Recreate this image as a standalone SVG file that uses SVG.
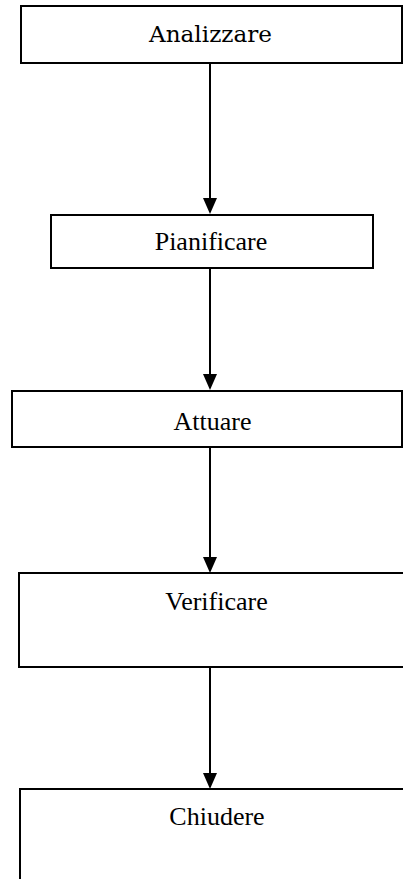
<svg xmlns="http://www.w3.org/2000/svg" width="403" height="879" viewBox="0 0 403 879">
<style>
.box{fill:#fff;stroke:#000;stroke-width:2}
.lbl{font-family:"Liberation Serif","Times New Roman",serif;font-size:26px;fill:#000;text-anchor:middle}
.lbl1{font-family:"DejaVu Serif","Liberation Serif",serif;font-size:22px;fill:#000;text-anchor:middle}
.conn{stroke:#000;stroke-width:2;fill:none;marker-end:url(#ah)}
</style>
<defs>
<marker id="ah" viewBox="0 0 16 14" refX="14" refY="7" markerWidth="16" markerHeight="14" markerUnits="userSpaceOnUse" orient="auto">
<path d="M0,0 L16,7 L0,14 z" fill="#000"/>
</marker>
</defs>
<rect width="403" height="879" fill="#fff"/>
<g id="connectors">
<line class="conn" x1="210" y1="63" x2="210" y2="212"/>
<line class="conn" x1="210" y1="268" x2="210" y2="388"/>
<line class="conn" x1="210" y1="447" x2="210" y2="571"/>
<line class="conn" x1="210" y1="667" x2="210" y2="787"/>
</g>
<g id="analizzare">
<rect class="box" x="21" y="6" width="381" height="57"/>
<text class="lbl1" x="210.5" y="42" textLength="123" lengthAdjust="spacingAndGlyphs">Analizzare</text>
</g>
<g id="pianificare">
<rect class="box" x="51" y="215" width="322" height="53"/>
<text class="lbl" x="211" y="250">Pianificare</text>
</g>
<g id="attuare">
<rect class="box" x="12" y="391" width="390" height="56"/>
<text class="lbl" x="212.5" y="430">Attuare</text>
</g>
<g id="verificare">
<rect class="box" x="19" y="573" width="400" height="94"/>
<text class="lbl" x="216.5" y="610">Verificare</text>
</g>
<g id="chiudere">
<rect class="box" x="20" y="789" width="400" height="110"/>
<text class="lbl" x="217" y="825">Chiudere</text>
</g>
</svg>
